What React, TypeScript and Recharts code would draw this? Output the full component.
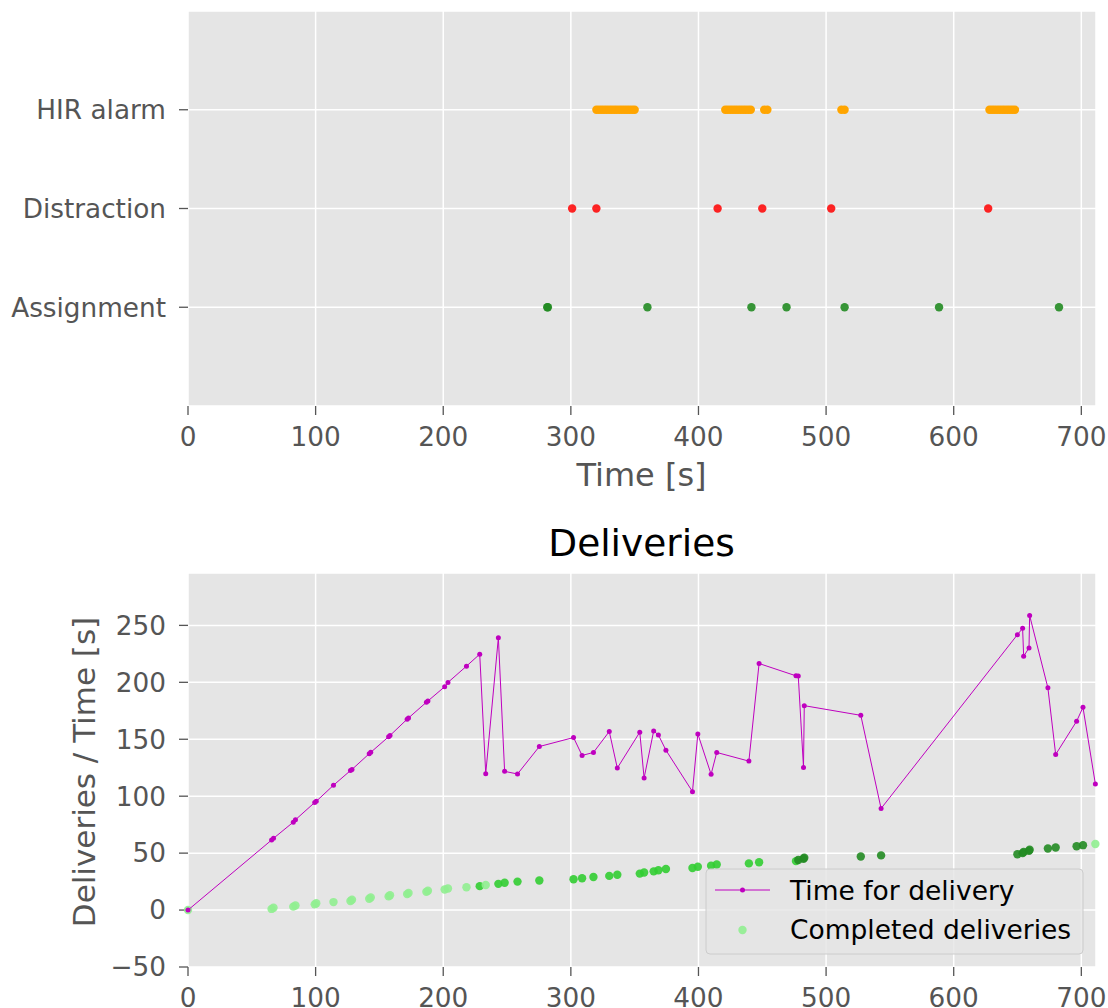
import React from "react";
import { ScatterChart, Scatter, XAxis, YAxis, CartesianGrid } from "recharts";

const FONT = "'DejaVu Sans', 'Liberation Sans', sans-serif";
const PANEL_BG = "#E5E5E5";
const TICK_GRAY = "#555555";
const MAGENTA = "#BF00BF";

// top panel: event times [s]
const eventLabels = ["Assignment", "Distraction", "HIR alarm"];
const hirAlarmTimes = [
  320, 322, 324, 326, 328, 330, 332, 334, 336, 338, 340, 342, 344, 346, 348, 350,
  421, 423, 425, 427, 429, 431, 433, 435, 437, 439, 441,
  451.5, 454,
  512, 514.5,
  628, 630, 632, 634, 636, 638, 640, 642, 644, 646, 648,
];
const distractionTimes = [301, 320, 415, 450, 504, 627];
const assignmentTimes = [281.5, 282, 360, 441.5, 469, 514.5, 588.5, 682.5];

// bottom panel: each completed delivery
const deliveryTimes = [
  0, 65.5, 67, 82.5, 84.2, 99.3, 100.5, 114, 127.3, 128.5, 142, 143.2, 157.2, 158.3,
  171.7, 172.8, 186.8, 188, 201.1, 203.7, 218.2, 228.6, 233.3, 243.2, 248.1, 258.2,
  275.3, 302.1, 308.8, 317.7, 330.1, 336.4, 354, 357.4, 364.9, 368.6, 374.5, 395.3,
  399.5, 409.9, 414.3, 439.5, 447.5, 476.4, 478.2, 482.3, 482.9, 527.2, 543.1, 649.9,
  654, 654.8, 659, 659.5, 673.8, 679.9, 696.3, 701.3, 711,
];
const deliveryDurations = [
  0, 61.5, 63, 77.2, 79.3, 94.5, 95.5, 109.6, 122.5, 123.5, 137.3, 138.5, 152.2, 153.3,
  167.6, 168.7, 182.5, 183.6, 196.1, 199.9, 214.2, 224.7, 119.8, 239.2, 121.8, 119.5,
  143.6, 151.5, 135.8, 138.4, 156.8, 124.7, 156.2, 116, 157.3, 153.8, 140.4, 104,
  154.7, 119.2, 138.4, 130.8, 216.5, 205.7, 205.5, 125.3, 179.5, 171, 89.2, 241.8,
  247.4, 222.9, 230.2, 258.7, 195.2, 136.6, 165.8, 178, 110.7,
];
// marker group of the completed-deliveries dots
const deliveryGroup = [
  0, 0, 0, 0, 0, 0, 0, 0, 0, 0, 0, 0, 0, 0, 0, 0, 0, 0, 0, 0, 0,
  1, 0, 1, 1, 1, 1, 1, 1, 1, 1, 1, 1, 1, 1, 1, 1, 1, 1, 1, 1, 1, 1, 1,
  2, 2, 2, 2, 2, 2, 2, 2, 2, 2, 2, 2, 2, 2,
  0,
];

const timeTicks = [0, 100, 200, 300, 400, 500, 600, 700];
const deliveryTicks = [-50, 0, 50, 100, 150, 200, 250];

const GROUP_COLORS = ["#90EE90", "#32CD32", "#228B22"];

const hirData = hirAlarmTimes.map((t) => ({ t, v: 2 }));
const distractionData = distractionTimes.map((t) => ({ t, v: 1 }));
const assignmentData = assignmentTimes.map((t) => ({ t, v: 0 }));
const durationData = deliveryTimes.map((t, i) => ({ t, v: deliveryDurations[i] }));
const completedData = deliveryTimes.map((t, i) => ({ t, v: i, group: deliveryGroup[i] }));

const tickStyle = { fill: TICK_GRAY, fontSize: 26.3, fontFamily: FONT };
const tickLineStyle = { stroke: TICK_GRAY, strokeWidth: 1.3 };

const dot = (r: number, color: string, opacity = 1) => (p: any) => (
  <circle cx={p.cx} cy={p.cy} r={r} fill={color} fillOpacity={opacity} />
);

const groupDot = (p: any) => {
  const g = p.payload?.group ?? p.group ?? 0;
  return <circle cx={p.cx} cy={p.cy} r={4.2} fill={GROUP_COLORS[g]} fillOpacity={0.9} />;
};

const minus = (v: number) => (v < 0 ? `\u2212${-v}` : `${v}`);

const TimeAxis = (height: number) => (
  <XAxis
    dataKey="t"
    type="number"
    domain={[0, 711.5]}
    ticks={timeTicks}
    interval={0}
    height={height}
    axisLine={false}
    tick={tickStyle}
    tickLine={tickLineStyle}
    tickSize={9}
    tickMargin={12}
  />
);

const EventChart = () => (
  <ScatterChart width={1108} height={500} margin={{ top: 11, right: 12, bottom: 0, left: 0 }}>
    <CartesianGrid fill={PANEL_BG} stroke="#FFFFFF" strokeWidth={1.5} />
    {TimeAxis(94)}
    <YAxis
      dataKey="v"
      type="number"
      domain={[-1, 3]}
      ticks={[0, 1, 2]}
      interval={0}
      width={188}
      axisLine={false}
      tick={tickStyle}
      tickLine={tickLineStyle}
      tickSize={9}
      tickMargin={13}
      tickFormatter={(v: number) => eventLabels[v]}
    />
    <Scatter data={hirData} shape={dot(4.2, "#FFA500")} isAnimationActive={false} />
    <Scatter data={distractionData} shape={dot(4.2, "#FF0000", 0.85)} isAnimationActive={false} />
    <Scatter data={assignmentData} shape={dot(4.2, "#228B22", 0.9)} isAnimationActive={false} />
  </ScatterChart>
);

const DeliveryChart = () => (
  <ScatterChart width={1108} height={508} margin={{ top: 73, right: 12, bottom: 0, left: 0 }}>
    <CartesianGrid fill={PANEL_BG} stroke="#FFFFFF" strokeWidth={1.5} />
    {TimeAxis(41)}
    <YAxis
      dataKey="v"
      type="number"
      domain={[-50, 296]}
      ticks={deliveryTicks}
      interval={0}
      width={188}
      axisLine={false}
      tick={tickStyle}
      tickLine={tickLineStyle}
      tickSize={9}
      tickMargin={13}
      tickFormatter={minus}
    />
    <Scatter data={completedData} shape={groupDot} isAnimationActive={false} />
    <Scatter
      data={durationData}
      line={{ stroke: MAGENTA, strokeWidth: 1 }}
      shape={dot(2.5, MAGENTA)}
      isAnimationActive={false}
    />
  </ScatterChart>
);

export default function App() {
  return (
    <div style={{ position: "absolute", left: 0, top: 0, width: 1108, height: 1008, background: "#fff" }}>
      <div style={{ position: "absolute", left: 0, top: 0 }}>
        <EventChart />
      </div>
      <div style={{ position: "absolute", left: 0, top: 500 }}>
        <DeliveryChart />
      </div>
      <svg
        width={1108}
        height={1008}
        style={{ position: "absolute", left: 0, top: 0, pointerEvents: "none" }}
        fontFamily={FONT}
      >
        <text x={641.5} y={486} textAnchor="middle" fontSize={32} fill={TICK_GRAY}>
          Time [s]
        </text>
        <text x={641.5} y={556} textAnchor="middle" fontSize={37.5} fill="#000">
          Deliveries
        </text>
        <text
          transform="translate(84,772) rotate(-90)"
          textAnchor="middle"
          dominantBaseline="central"
          fontSize={31}
          fill={TICK_GRAY}
        >
          Deliveries / Time [s]
        </text>
        <g>
          <rect x={706} y={869} width={377} height={85} rx={4} fill={PANEL_BG} fillOpacity={0.8} stroke="#CCCCCC" />
          <line x1={715} x2={770} y1={890} y2={890} stroke={MAGENTA} strokeWidth={1} />
          <circle cx={742.5} cy={890} r={2.5} fill={MAGENTA} />
          <text x={790} y={900} fontSize={26.5} fill="#000">
            Time for delivery
          </text>
          <circle cx={742.5} cy={930} r={4.2} fill={GROUP_COLORS[0]} fillOpacity={0.9} />
          <text x={790} y={939} fontSize={26.5} fill="#000">
            Completed deliveries
          </text>
        </g>
      </svg>
    </div>
  );
}
